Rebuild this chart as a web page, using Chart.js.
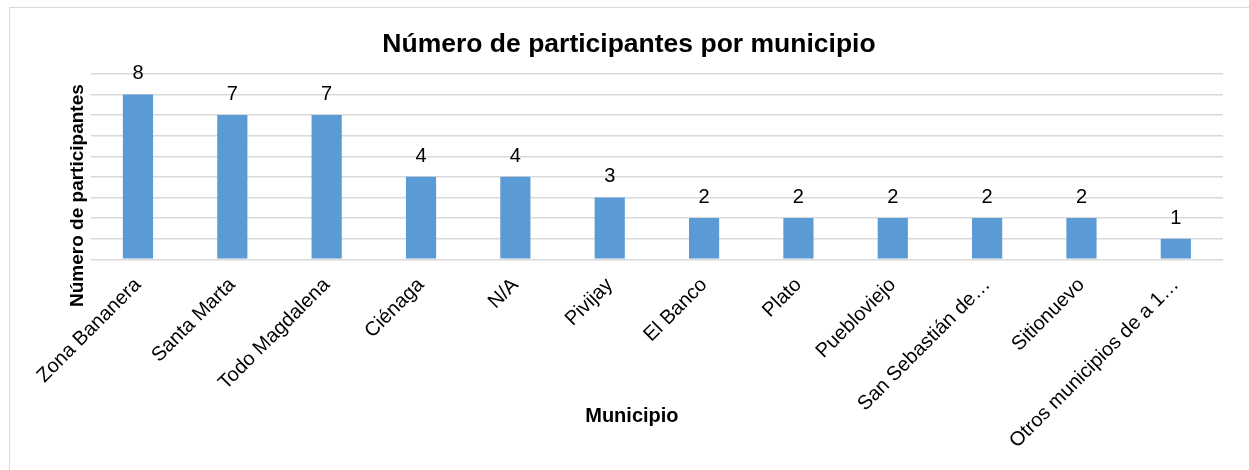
<!DOCTYPE html>
<html>
<head>
<meta charset="utf-8">
<script src="https://cdn.jsdelivr.net/npm/chart.js@4.4.1/dist/chart.umd.min.js"></script>
<style>
  body { margin: 0; background: #fff; }
  #frame { position: absolute; left: 9px; top: 7px; width: 1300px; height: 520px; border: 1px solid #d9d9d9; }
  #wrap { position: absolute; left: 0; top: 0; width: 1249px; height: 470px; }
</style>
</head>
<body>
<div id="frame"></div>
<div id="wrap"><canvas id="chart"></canvas></div>
<script>
// datos del gráfico
const municipios = [
  "Zona Bananera", "Santa Marta", "Todo Magdalena", "Ciénaga", "N/A", "Pivijay",
  "El Banco", "Plato", "Puebloviejo", "San Sebastián de…", "Sitionuevo", "Otros municipios de a 1…"
];
const participantes = [8, 7, 7, 4, 4, 3, 2, 2, 2, 2, 2, 1];
const yTicks = [0, 1, 2, 3, 4, 5, 6, 7, 8, 9];

const FONT = "'Liberation Sans', Arial, sans-serif";
const BLUE = "#5b9bd5";
const GRID = "#d9d9d9";

// etiquetas de valor encima de cada barra
const valueLabels = {
  id: "valueLabels",
  afterDatasetsDraw(chart) {
    const ctx = chart.ctx;
    const meta = chart.getDatasetMeta(0);
    ctx.save();
    ctx.font = "20px " + FONT;
    ctx.fillStyle = "#000";
    ctx.textAlign = "center";
    ctx.textBaseline = "alphabetic";
    meta.data.forEach((bar, i) => {
      ctx.fillText(participantes[i], bar.x, bar.y - 15);
    });
    ctx.restore();
  }
};

new Chart(document.getElementById("chart"), {
  type: "bar",
  data: {
    labels: municipios,
    datasets: [{
      data: participantes,
      backgroundColor: BLUE,
      barPercentage: 1,
      categoryPercentage: 0.32
    }]
  },
  options: {
    responsive: true,
    maintainAspectRatio: false,
    animation: false,
    layout: { padding: { left: 35, right: 26, top: 20, bottom: 20 } },
    plugins: {
      legend: { display: false },
      tooltip: { enabled: false },
      title: {
        display: true,
        text: "Número de participantes por municipio",
        color: "#000",
        font: { family: FONT, size: 26.5, weight: "bold" },
        padding: { top: 9, bottom: 13 }
      }
    },
    scales: {
      x: {
        grid: { display: false },
        border: { display: false },
        ticks: {
          color: "#000",
          font: { family: FONT, size: 20 },
          minRotation: 45,
          maxRotation: 45,
          autoSkip: false,
          padding: 6
        },
        title: {
          display: true,
          // espacios finales para desplazar el título a la izquierda como en el original
          text: "Municipio         ",
          color: "#000",
          font: { family: FONT, size: 20, weight: "bold" },
          padding: { top: -55, bottom: 22 }
        }
      },
      y: {
        min: yTicks[0],
        max: yTicks[yTicks.length - 1],
        afterBuildTicks(axis) { axis.ticks = yTicks.map(v => ({ value: v })); },
        grid: { color: GRID, lineWidth: 1.5, drawTicks: false },
        border: { display: false },
        ticks: { display: false },
        title: {
          display: true,
          // espacios finales para bajar el título como en el original
          text: "Número de participantes           ",
          color: "#000",
          font: { family: FONT, size: 19, weight: "bold" },
          padding: { top: 31, bottom: 2 }
        }
      }
    }
  },
  plugins: [valueLabels]
});
</script>
</body>
</html>
